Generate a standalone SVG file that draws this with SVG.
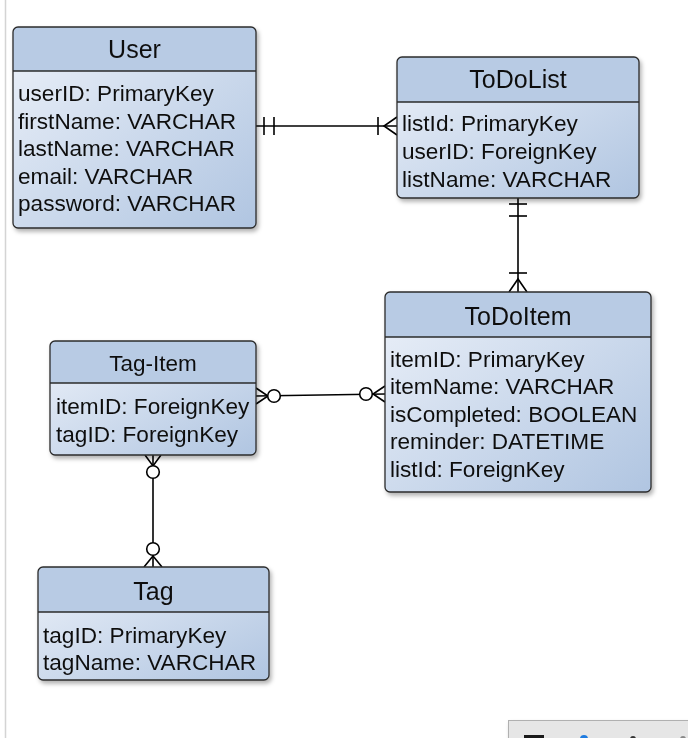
<svg xmlns="http://www.w3.org/2000/svg" width="688" height="738" viewBox="0 0 688 738">
<style>
.box{fill:url(#bodyGrad);stroke:none}
.hdr{fill:#b8cbe4}
.out{fill:none;stroke:#2b2b2b;stroke-width:1.3}
.sep{stroke:#2b2b2b;stroke-width:1.3}
.title{font-family:"Liberation Sans",Arial,sans-serif;font-size:25px;fill:#111;text-anchor:middle}
.title2{font-family:"Liberation Sans",Arial,sans-serif;font-size:22.5px;fill:#111;text-anchor:middle}
.row{font-family:"Liberation Sans",Arial,sans-serif;font-size:22.6px;fill:#111}
.cn{fill:none;stroke:#000;stroke-width:1.6}
.circ{fill:#fff;stroke:#000;stroke-width:1.6}
</style>
<defs>
<linearGradient id="bodyGrad" x1="0" y1="0" x2="1" y2="1">
<stop offset="0" stop-color="#ecf1f9"/>
<stop offset="1" stop-color="#b0c5e1"/>
</linearGradient>
<filter id="sh" x="-10%" y="-10%" width="130%" height="130%">
<feDropShadow dx="2" dy="3" stdDeviation="2" flood-color="#000" flood-opacity="0.3"/>
</filter>
</defs>
<rect width="688" height="738" fill="#fff"/>
<line x1="5.5" y1="0" x2="5.5" y2="738" stroke="#d4d4d4" stroke-width="1.5"/>

<g id="connectors">
<!-- User - ToDoList -->
<line class="cn" x1="256" y1="126" x2="397" y2="126"/>
<line class="cn" x1="264" y1="117" x2="264" y2="135"/>
<line class="cn" x1="274" y1="117" x2="274" y2="135"/>
<line class="cn" x1="378" y1="117" x2="378" y2="135"/>
<polyline class="cn" points="397,117 384,126 397,135"/>
<!-- ToDoList - ToDoItem -->
<line class="cn" x1="518" y1="198" x2="518" y2="292"/>
<line class="cn" x1="509" y1="204" x2="527" y2="204"/>
<line class="cn" x1="509" y1="216" x2="527" y2="216"/>
<line class="cn" x1="509" y1="273" x2="527" y2="273"/>
<polyline class="cn" points="509,292 518,279 527,292"/>
<!-- Tag-Item - ToDoItem -->
<line class="cn" x1="256" y1="396" x2="385" y2="394"/>
<polyline class="cn" points="256,388 268,396 256,404"/>
<circle class="circ" cx="274" cy="396" r="6.3"/>
<circle class="circ" cx="366" cy="394" r="6.3"/>
<polyline class="cn" points="385,386 373,394 385,402"/>
<!-- Tag-Item - Tag -->
<line class="cn" x1="153" y1="455" x2="153" y2="567"/>
<polyline class="cn" points="145,455 153,466 161,455"/>
<circle class="circ" cx="153" cy="472" r="6.3"/>
<circle class="circ" cx="153" cy="549" r="6.3"/>
<polyline class="cn" points="144,567 153,556 162,567"/>
</g>

<g id="User" filter="url(#sh)">
<rect class="box" x="13" y="27" width="243" height="201" rx="5"/>
<path class="hdr" d="M13,71 V32 Q13,27 18,27 H251 Q256,27 256,32 V71 Z"/>
<line class="sep" x1="13" y1="71" x2="256" y2="71"/>
<rect class="out" x="13" y="27" width="243" height="201" rx="5"/>
<text class="title" x="134.5" y="58">User</text>
<text class="row" x="18" y="101">userID: PrimaryKey</text>
<text class="row" x="18" y="128.5">firstName: VARCHAR</text>
<text class="row" x="18" y="156">lastName: VARCHAR</text>
<text class="row" x="18" y="183.5">email: VARCHAR</text>
<text class="row" x="18" y="211">password: VARCHAR</text>
</g>

<g id="ToDoList" filter="url(#sh)">
<rect class="box" x="397" y="57" width="242" height="141" rx="5"/>
<path class="hdr" d="M397,102 V62 Q397,57 402,57 H634 Q639,57 639,62 V102 Z"/>
<line class="sep" x1="397" y1="102" x2="639" y2="102"/>
<rect class="out" x="397" y="57" width="242" height="141" rx="5"/>
<text class="title" x="518" y="88">ToDoList</text>
<text class="row" x="402" y="131">listId: PrimaryKey</text>
<text class="row" x="402" y="159">userID: ForeignKey</text>
<text class="row" x="402" y="187">listName: VARCHAR</text>
</g>

<g id="ToDoItem" filter="url(#sh)">
<rect class="box" x="385" y="292" width="266" height="200" rx="5"/>
<path class="hdr" d="M385,337 V297 Q385,292 390,292 H646 Q651,292 651,297 V337 Z"/>
<line class="sep" x1="385" y1="337" x2="651" y2="337"/>
<rect class="out" x="385" y="292" width="266" height="200" rx="5"/>
<text class="title" x="518" y="325">ToDoItem</text>
<text class="row" x="390" y="367">itemID: PrimaryKey</text>
<text class="row" x="390" y="394">itemName: VARCHAR</text>
<text class="row" x="390" y="421.5">isCompleted: BOOLEAN</text>
<text class="row" x="390" y="449">reminder: DATETIME</text>
<text class="row" x="390" y="477">listId: ForeignKey</text>
</g>

<g id="Tag-Item" filter="url(#sh)">
<rect class="box" x="50" y="341" width="206" height="114" rx="5"/>
<path class="hdr" d="M50,383 V346 Q50,341 55,341 H251 Q256,341 256,346 V383 Z"/>
<line class="sep" x1="50" y1="383" x2="256" y2="383"/>
<rect class="out" x="50" y="341" width="206" height="114" rx="5"/>
<text class="title2" x="153" y="371">Tag-Item</text>
<text class="row" x="56" y="414">itemID: ForeignKey</text>
<text class="row" x="56" y="442">tagID: ForeignKey</text>
</g>

<g id="Tag" filter="url(#sh)">
<rect class="box" x="38" y="567" width="231" height="113" rx="5"/>
<path class="hdr" d="M38,612 V572 Q38,567 43,567 H264 Q269,567 269,572 V612 Z"/>
<line class="sep" x1="38" y1="612" x2="269" y2="612"/>
<rect class="out" x="38" y="567" width="231" height="113" rx="5"/>
<text class="title" x="153.5" y="600">Tag</text>
<text class="row" x="43" y="643">tagID: PrimaryKey</text>
<text class="row" x="43" y="670">tagName: VARCHAR</text>
</g>

<g id="toolbar">
<rect x="508.5" y="720.5" width="190" height="30" fill="#e6e6e6" stroke="#b0b0b0" filter="url(#sh)"/>
<rect x="524" y="735" width="20" height="4" fill="#1a1a1a"/>
<circle cx="584" cy="739" r="4" fill="#1e7be0"/>
<circle cx="633" cy="739" r="3" fill="#333"/>
<circle cx="683" cy="739" r="3" fill="#888"/>
</g>
</svg>
